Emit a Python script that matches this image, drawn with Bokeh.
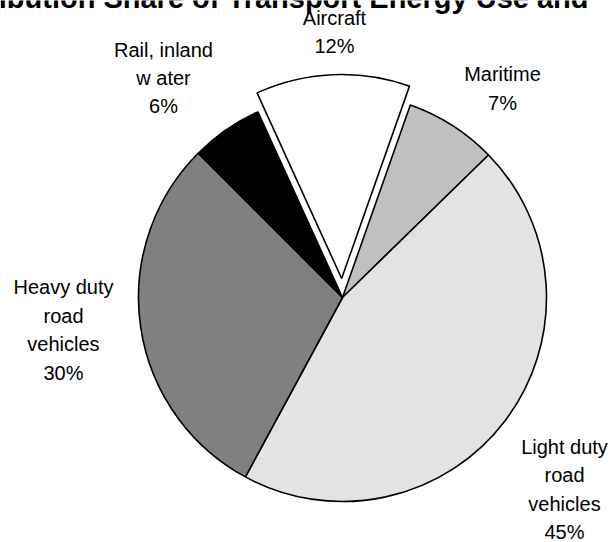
import numpy as np
from bokeh.plotting import figure
from bokeh.models import Range1d, ColumnDataSource
from bokeh.core.properties import value
from bokeh.embed import file_html
from bokeh.resources import INLINE

# ---- data ----
categories = ["Aircraft", "Maritime", "Light duty road vehicles",
              "Heavy duty road vehicles", "Rail, inland water"]
label_names = ["Aircraft", "Maritime", "Light duty\nroad\nvehicles",
               "Heavy duty\nroad\nvehicles", "Rail, inland\nw ater"]
shares = [12.2, 7.3, 45.2, 29.6, 5.7]
colors = ["#FFFFFF", "#C0C0C0", "#E3E3E3", "#808080", "#000000"]
explode_px = [19, 0, 0, 0, 0]
title_text = "Distribution Share of Transport Energy Use and"

# ---- layout ----
W, H = 610, 542
CX, CY = 342, H - 297
R = 204
START = -24.5  # degrees clockwise from 12 o'clock
# label block centres (x, y from top)
label_pos = [(334, 31.5), (502, 88), (564, 489), (63, 329.5), (163, 77.5)]

total = sum(shares)
cum = np.cumsum([0.0] + shares)
a0 = START + 360.0 * cum[:-1] / total
a1 = START + 360.0 * cum[1:] / total
mid = (a0 + a1) / 2.0
start_rad = np.radians(90.0 - a1)
end_rad = np.radians(90.0 - a0)
mid_rad = np.radians(90.0 - mid)
ex = np.array(explode_px, dtype=float)
xs = CX + ex * np.cos(mid_rad)
ys = CY + ex * np.sin(mid_rad)

src = ColumnDataSource(dict(x=xs, y=ys, s=start_rad, e=end_rad, c=colors, cat=categories))

p = figure(width=W, height=H, output_backend="svg", toolbar_location=None,
           x_range=Range1d(0, W), y_range=Range1d(0, H),
           x_axis_location=None, y_axis_location=None, min_border=0,
           tools="")
p.styles = {"position": "absolute", "top": "0px", "left": "0px"}
p.outline_line_color = None
p.xgrid.visible = False
p.ygrid.visible = False
p.background_fill_color = "white"
p.border_fill_color = "white"

p.wedge(x="x", y="y", radius=R, start_angle="s", end_angle="e",
        fill_color="c", line_color="black", line_width=1.6, source=src)

texts = [f"{n}\n{round(s)}%" for n, s in zip(label_names, shares)]
lsrc = ColumnDataSource(dict(x=[q[0] for q in label_pos],
                             y=[H - q[1] for q in label_pos], t=texts))
p.text(x="x", y="y", text="t", source=lsrc, text_align="center",
       text_baseline="middle", text_font=value("Liberation Sans"),
       text_font_size="20px", text_color="black", text_line_height=1.29)

p.text(x=[588], y=[H + 3], text=[title_text], text_align="right",
       text_baseline="alphabetic", text_font=value("Liberation Sans"),
       text_font_style="bold", text_font_size="29px", text_color="black")

open("out.html", "w").write(file_html(p, INLINE))
